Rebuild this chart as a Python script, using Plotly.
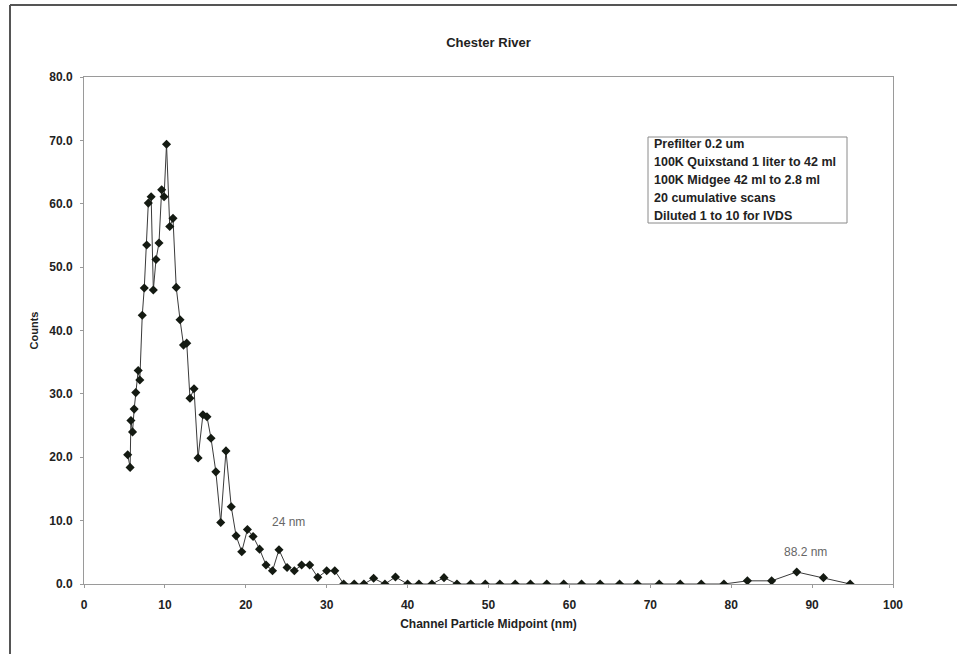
import plotly.graph_objects as go

# Channel midpoints (nm) and particle counts for the Chester River sample
midpoint_nm = [
    5.4, 5.7, 5.8, 6.0, 6.2, 6.4, 6.7, 6.9, 7.2, 7.45, 7.75, 7.95, 8.3, 8.57,
    8.9, 9.27, 9.6, 9.9, 10.2, 10.6, 11.0, 11.4, 11.87, 12.3, 12.7, 13.1,
    13.6, 14.1, 14.7, 15.2, 15.7, 16.3, 16.9, 17.55, 18.2, 18.8, 19.5, 20.2,
    20.9, 21.7, 22.5, 23.3, 24.1, 25.1, 26.0, 26.9, 27.9, 28.9, 30.0, 31.0,
    32.1, 33.4, 34.6, 35.8, 37.2, 38.5, 40.0, 41.4, 43.0, 44.5, 46.1, 47.8,
    49.6, 51.4, 53.3, 55.2, 57.2, 59.3, 61.5, 63.8, 66.2, 68.4, 71.1, 73.7,
    76.3, 79.1, 82.0, 85.0, 88.1, 91.4, 94.7,
]
counts = [
    20.4, 18.4, 25.8, 24.0, 27.6, 30.2, 33.7, 32.2, 42.4, 46.7, 53.5, 60.1,
    61.1, 46.4, 51.2, 53.8, 62.2, 61.1, 69.4, 56.4, 57.7, 46.8, 41.7, 37.7,
    38.0, 29.3, 30.8, 19.9, 26.7, 26.4, 23.0, 17.7, 9.7, 21.0, 12.2, 7.6,
    5.1, 8.6, 7.5, 5.5, 3.0, 2.1, 5.4, 2.6, 2.1, 3.0, 3.0, 1.05, 2.1, 2.1,
    0.0, 0.0, 0.0, 0.9, 0.0, 1.1, 0.0, 0.0, 0.0, 1.0, 0.0, 0.0,
    0.0, 0.0, 0.0, 0.0, 0.0, 0.0, 0.0, 0.0, 0.0, 0.0, 0.0, 0.0,
    0.0, 0.0, 0.5, 0.5, 1.9, 1.0, 0.0,
]

x_ticks = [0, 10, 20, 30, 40, 50, 60, 70, 80, 90, 100]
y_ticks = [0, 10, 20, 30, 40, 50, 60, 70, 80]

method_notes = [
    "Prefilter 0.2 um",
    "100K Quixstand 1 liter to 42 ml",
    "100K Midgee 42 ml to 2.8 ml",
    "20 cumulative scans",
    "Diluted 1 to 10 for IVDS",
]

peak_labels = [("24 nm", 25.3, 9.8), ("88.2 nm", 89.2, 5.0)]

FONT = "Liberation Sans, Arial, sans-serif"
AXIS_GREY = "#9a9a9a"

fig = go.Figure()
fig.add_trace(go.Scatter(
    x=midpoint_nm, y=counts, mode="lines+markers",
    line=dict(color="#3a3a3a", width=1),
    marker=dict(symbol="diamond", size=7, color="#141a12"),
    hoverinfo="x+y",
))

fig.update_layout(
    width=957, height=654,
    margin=dict(l=84, r=64, t=77, b=70),
    paper_bgcolor="white", plot_bgcolor="white",
    showlegend=False,
    font=dict(family=FONT, color="#222"),
    title=dict(text="<b>Chester River</b>", x=0.5, xref="paper", xanchor="center",
               y=1 - 42 / 654, yanchor="middle",
               font=dict(size=13, family=FONT, color="#222")),
)

fig.update_xaxes(
    range=[0, 100], tickvals=x_ticks, ticktext=[f"<b>{v}</b>" for v in x_ticks],
    showgrid=False, zeroline=False, showline=True, mirror=True,
    linecolor=AXIS_GREY, linewidth=1, ticks="outside", ticklen=3,
    tickcolor=AXIS_GREY, ticklabelstandoff=7,
    tickfont=dict(size=12, family=FONT, color="#222"),
    title=dict(text="<b>Channel Particle Midpoint (nm)</b>", standoff=8,
               font=dict(size=12, family=FONT, color="#222")),
)
fig.update_yaxes(
    range=[0, 80], tickvals=y_ticks, ticktext=[f"<b>{v:.1f}</b>" for v in y_ticks],
    showgrid=False, zeroline=False, showline=True, mirror=True,
    linecolor=AXIS_GREY, linewidth=1, ticks="outside", ticklen=3,
    tickcolor=AXIS_GREY, ticklabelstandoff=5,
    tickfont=dict(size=12, family=FONT, color="#222"),
    title=dict(text="<b>Counts</b>", standoff=8,
               font=dict(size=11, family=FONT, color="#222")),
)

# Outer chart frame (left and top edges)
fig.add_shape(type="line", xref="paper", yref="paper",
              x0=-74 / 809, x1=-74 / 809, y0=-0.2, y1=579 / 507,
              line=dict(color="#555", width=2))
fig.add_shape(type="line", xref="paper", yref="paper",
              x0=-74 / 809, x1=1.2, y0=579 / 507, y1=579 / 507,
              line=dict(color="#555", width=2))

# Sample-preparation notes box
fig.add_shape(type="rect", xref="paper", yref="paper",
              x0=(648 - 84) / 809, x1=(847 - 84) / 809,
              y0=(585 - 224) / 507, y1=(585 - 138) / 507,
              line=dict(color="#8a8a8a", width=1), fillcolor="white")
for i, line in enumerate(method_notes):
    fig.add_annotation(
        text=f"<b>{line}</b>", xref="paper", yref="paper",
        x=(652 - 84) / 809, y=(585 - (145 + 18 * i)) / 507,
        xanchor="left", yanchor="middle", showarrow=False,
        font=dict(size=12.5, family=FONT, color="#222"),
    )

for label, lx, ly in peak_labels:
    fig.add_annotation(text=label, x=lx, y=ly, xref="x", yref="y",
                       showarrow=False, font=dict(size=12, family=FONT, color="#666"))

fig.write_html("out.html")
